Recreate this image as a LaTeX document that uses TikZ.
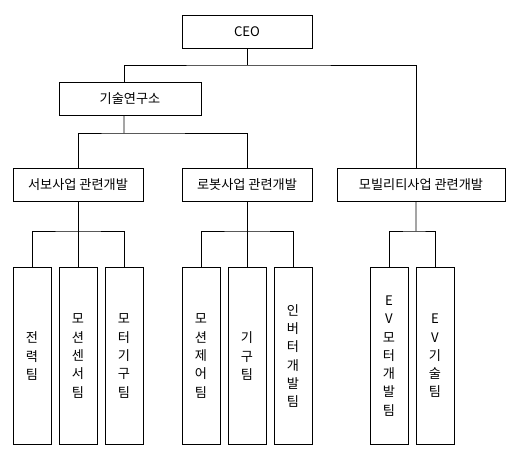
\documentclass[tikz,border=0pt]{standalone}
\usepackage{fontspec}
\setmainfont{Noto Sans CJK KR}
\begin{document}
\begin{tikzpicture}[x=0.02cm,y=-0.02cm,line width=0.55pt,
	box/.style={draw,minimum width=2.6cm,minimum height=0.66cm,inner sep=0pt,font={\fontsize{7.5}{9}\selectfont}},
	team/.style={draw,minimum width=0.76cm,minimum height=3.56cm,inner sep=0pt,align=center,font={\fontsize{7.5}{10.4}\selectfont}}]
	\useasboundingbox (0,0) rectangle (515,453);
	% upper levels
	\node[box] (ceo) at (247,31.5) {CEO};
	\node[box,minimum width=2.84cm] (lab) at (130,98.5) {기술연구소};
	\node[box] (servo) at (78,184.5) {서보사업 관련개발};
	\node[box] (robot) at (247,184.5) {로봇사업 관련개발};
	\node[box,minimum width=3.36cm] (mob) at (421,184.5) {모빌리티사업 관련개발};
	% teams
	\node[team] (power) at (32,356) {전\\력\\팀};
	\node[team] (msensor) at (78,356) {모\\션\\센\\서\\팀};
	\node[team] (mmech) at (124,356) {모\\터\\기\\구\\팀};
	\node[team] (mctrl) at (201,356) {모\\션\\제\\어\\팀};
	\node[team] (mech) at (247,356) {기\\구\\팀};
	\node[team] (inv) at (293,356) {인\\버\\터\\개\\발\\팀};
	\node[team] (evmotor) at (389,356) {E\\V\\모\\터\\개\\발\\팀};
	\node[team] (evtech) at (435,356) {E\\V\\기\\술\\팀};
	% connectors
	\coordinate (c1) at (247,65);
	\draw (ceo.south)--(c1);
	\draw ([xshift=-0.12cm]lab.north)|-(c1)-|([xshift=-0.1cm]mob.north);
	\coordinate (c2) at (124,133);
	\draw ([xshift=-0.12cm]lab.south)--(c2);
	\draw (servo.north)|-(c2)-|(robot.north);
	\coordinate (c3) at (78,231);
	\draw (msensor.north)--(servo.south);
	\draw (power.north)|-(c3)-|(mmech.north);
	\coordinate (c4) at (247,231);
	\draw (mech.north)--(robot.south);
	\draw (mctrl.north)|-(c4)-|(inv.north);
	\coordinate (c5) at (416,231);
	\draw ([xshift=-0.1cm]mob.south)--(c5);
	\draw (evmotor.north)|-(c5)-|(evtech.north);
\end{tikzpicture}
\end{document}
